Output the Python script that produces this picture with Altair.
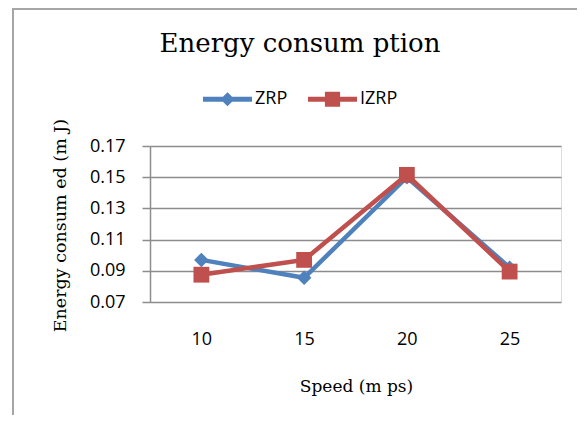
import altair as alt
import pandas as pd

speeds = ["10", "15", "20", "25"]
zrp = [0.097, 0.0855, 0.150, 0.092]
izrp = [0.0875, 0.097, 0.1515, 0.0895]
series_names = ["ZRP", "IZRP"]
series_colors = ["#4F81BD", "#C0504D"]
y_ticks = [0.07, 0.09, 0.11, 0.13, 0.15, 0.17]

rows = []
for name, vals in zip(series_names, [zrp, izrp]):
    for s, v in zip(speeds, vals):
        rows.append({"speed": s, "energy": v, "series": name})
df = pd.DataFrame(rows)

SERIF = "DejaVu Serif"
SANS = "Open Sans"
GRID = "#8c8c8c"

x_enc = alt.X(
    "speed:O", sort=speeds, scale=alt.Scale(type="point", padding=0.5),
    axis=alt.Axis(title="Speed (m ps)", labelAngle=0, domain=False, ticks=False,
                  labelPadding=28, labelFont=SANS, labelFontSize=18, labelColor="#000",
                  titleFont=SERIF, titleFontSize=17, titleFontWeight="normal", titleColor="#000",
                  titleX=206, titleY=84, titleAlign="center", titleBaseline="middle"))
y_enc = alt.Y(
    "energy:Q", scale=alt.Scale(domain=[0.07, 0.17], nice=False, zero=False),
    axis=alt.Axis(values=y_ticks, format=".2f", title="Energy consum ed (m J)",
                  tickSize=8, tickColor=GRID, tickWidth=1.5,
                  domainColor=GRID, domainWidth=1.5,
                  grid=True, gridColor=GRID, gridWidth=1.5,
                  labelPadding=17, labelFont=SANS, labelFontSize=18, labelColor="#000",
                  titleFont=SERIF, titleFontSize=17.5, titleFontWeight="normal", titleColor="#000",
                  titleAngle=270, titleX=-90, titleY=79, titleAlign="center", titleBaseline="middle"))

leg_params = dict(orient="none", legendX=53, legendY=-71.5, direction="horizontal", title=None,
                  symbolSize=2401, symbolStrokeWidth=0, symbolOpacity=1,
                  labelFont=SANS, labelFontSize=18, labelColor="#000", labelOffset=3,
                  columnPadding=20, padding=0)
color_scale = alt.Scale(domain=series_names, range=series_colors)
color_enc = alt.Color("series:N", scale=color_scale, legend=alt.Legend(**leg_params))

base = alt.Chart(df)
frame = alt.Chart(pd.DataFrame({"a": [0]})).mark_rect(
    fillOpacity=0, stroke="#a6a6a6", strokeWidth=2
).encode(x=alt.value(-137), x2=alt.value(440), y=alt.value(-137), y2=alt.value(400))

layers = [frame]
for name, shape, size in zip(series_names, ["diamond", "square"], [210, 250]):
    sub = base.transform_filter(alt.datum.series == name)
    layers.append(sub.mark_line(strokeWidth=4.5).encode(x=x_enc, y=y_enc, color=color_enc))
    layers.append(sub.mark_point(filled=True, opacity=1, shape=shape, size=size)
                  .encode(x=x_enc, y=y_enc, color=color_enc))

legend_paths = [
    "M-1,-0.1H1V0.1H-1Z M0,-0.29L0.29,0L0,0.29L-0.29,0Z",
    "M-1,-0.1H1V0.1H-1Z M-0.31,-0.31H0.31V0.31H-0.31Z",
]
legend_layer = base.transform_filter("false").mark_point(filled=True, opacity=1, size=2401).encode(
    x=x_enc, y=y_enc,
    color=color_enc,
    shape=alt.Shape("series:N", scale=alt.Scale(domain=series_names, range=legend_paths),
                    legend=alt.Legend(**leg_params)),
)
layers.append(legend_layer)

chart = alt.layer(*layers).properties(
    width=411, height=156,
    title=alt.TitleParams("Energy consum ption", font=SERIF, fontSize=26, fontWeight="normal",
                          color="#000", anchor="middle", dx=-55.5, offset=0, dy=70,
                          baseline="alphabetic"),
    autosize=alt.AutoSizeParams(type="none"),
    padding={"left": 142, "top": 138, "right": 16, "bottom": 113},
).configure_view(stroke=None).configure(background="white")

chart.save("out.html", embed_options={"renderer": "svg", "actions": False})
